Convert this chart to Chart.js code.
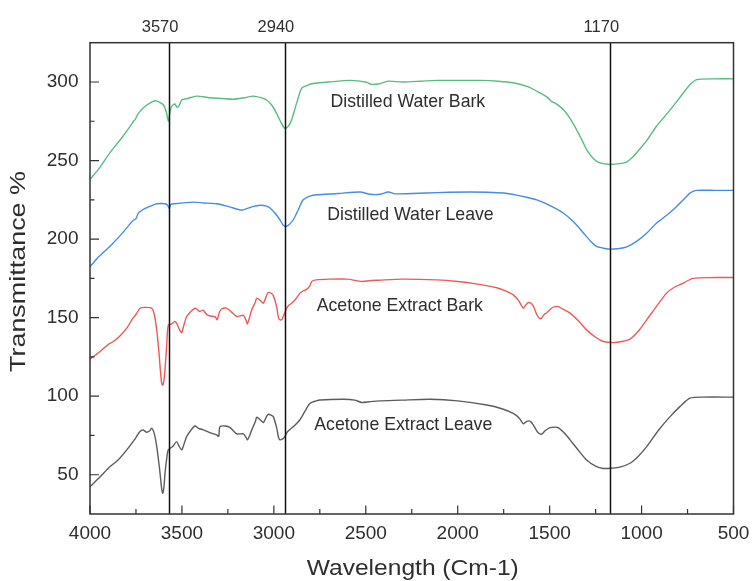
<!DOCTYPE html>
<html>
<head>
<meta charset="utf-8">
<script src="https://cdn.jsdelivr.net/npm/chart.js@4.4.1/dist/chart.umd.min.js"></script>
<style>
  html, body { margin: 0; padding: 0; background: #ffffff; }
  #wrap { width: 754px; height: 581px; position: relative; }
</style>
</head>
<body>
<div id="wrap"><canvas id="c" width="754" height="581"></canvas></div>
<script>
// ---------- data (wavenumber cm-1, transmittance %) ----------
const waterBarkWn = [4000,3950,3891,3830,3780,3764,3755,3737,3700,3660,3640,3620,3601,3585,3574,3565,3556,3538,3528,3515,3501,3470,3420,3350,3280,3220,3160,3112,3070,3039,3010,2985,2960,2940,2920,2903,2875,2849,2815,2785,2700,2586,2500,2470,2420,2380,2300,2200,2115,2000,1879,1780,1698,1620,1552,1510,1489,1470,1426,1390,1353,1320,1299,1260,1226,1172,1120,1081,1050,1027,970,918,860,809,760,737,700,600,500];
const waterBarkT  = [238,245,255,264,272,275,276,280,284.5,287.5,288,287,285.5,281,275,281,284.5,286,284,285,288.5,289.5,291,290,289.5,289,290,291,290,288.5,285,280,274,270.5,272,276,287,296,298,299,300,301,300,298.5,299,300.5,300,300.5,301,301,301,300.5,299.5,297,293,290,287.5,286.5,282.5,277,269.5,262,257,251,248.5,247.5,248,249,252,255,263,272,280,287.5,295,298.3,301.5,302,302];

const waterLeaveWn = [4000,3950,3891,3830,3780,3764,3750,3737,3700,3660,3637,3592,3578,3569,3560,3540,3438,3380,3311,3240,3175,3120,3075,3040,3021,2990,2967,2950,2934,2915,2894,2870,2840,2800,2767,2650,2531,2477,2420,2378,2340,2169,2050,1933,1840,1752,1680,1620,1570,1500,1426,1370,1317,1280,1244,1200,1172,1120,1081,1027,970,918,860,809,760,737,700,600,500];
const waterLeaveT  = [182.5,189,195.5,203,210,212,213,216.5,219.5,221.5,222.5,222.5,221.5,219.5,222,222.5,223.5,223,222.5,220.5,218.5,220.5,221.5,221,219.8,216,212.3,209,208,209.5,212.3,218,225,227.5,228.2,229,230,228.5,228.5,230,228.8,229.3,229.8,230,229.8,229.3,228,226.5,225,221.5,216.6,211,204,199,195.3,194,193.6,194,195,198.5,204,210.2,215.5,220.8,226.5,229.3,231,231,231];

const acetoneBarkWn = [4000,3950,3900,3873,3840,3800,3770,3750,3728,3700,3664,3650,3637,3625,3619,3610,3604,3598,3592,3583,3574,3555,3540,3529,3512,3501,3490,3474,3450,3429,3415,3402,3385,3365,3347,3320,3308,3298,3285,3257,3230,3202,3166,3150,3144,3135,3120,3100,3093,3070,3057,3040,3030,3015,3003,2985,2975,2967,2955,2949,2925,2900,2880,2858,2840,2822,2805,2794,2770,2700,2600,2520,2480,2430,2300,2115,2000,1900,1788,1740,1698,1670,1650,1643,1630,1616,1600,1589,1570,1555,1544,1530,1517,1490,1470,1453,1430,1389,1340,1299,1250,1208,1154,1100,1063,1020,972,920,864,820,773,720,600,500];
const acetoneBarkT  = [123.6,128,133,134.8,138,143.3,149,152,156,156.5,156,152,142,128,119,108,107,110,117,132,145.4,146,147.5,146.5,142,140.5,145,150.7,154,156,155,153.9,154.8,152,151,150.7,148.6,153,155.5,156,153.5,150.7,151.5,148,146,149,155,160,162.4,160.5,159.2,164,166,165.5,164,157,150,148.6,149,150.7,157,159.5,162,165.6,167,168,170,173,174,174.5,174.5,173,173.5,173.8,174.5,174,173,171.5,169,167,164.5,161,157,156,158,159.6,159,157.5,152,149.5,149.7,152,153,156,157,157,155.5,152.9,147.5,142.2,137.5,134.8,134.1,135,136.3,141,148.6,157,165.6,169.5,172,175,175.5,175.5];

const acetoneLeaveWn = [4000,3950,3891,3850,3800,3760,3728,3710,3692,3675,3664,3650,3637,3625,3619,3610,3604,3598,3592,3583,3574,3550,3529,3515,3501,3490,3474,3450,3429,3410,3384,3360,3347,3311,3300,3293,3265,3238,3202,3166,3150,3144,3135,3120,3100,3093,3070,3057,3040,3030,3015,3003,2985,2975,2967,2950,2940,2925,2890,2858,2830,2803,2770,2749,2622,2560,2522,2477,2420,2300,2151,2000,1842,1760,1698,1665,1643,1630,1616,1600,1589,1565,1544,1525,1498,1470,1453,1420,1389,1340,1299,1250,1208,1160,1118,1063,1020,972,910,845,790,737,664,500];
const acetoneLeaveT  = [42.4,48,55.2,59,65.8,72,77.5,78.5,77,78,79.6,76,67.9,57,50.9,41,38.2,42,50.9,60,65.8,68,71.1,68,65.8,69,74.3,78.5,81,79.5,78.6,77.5,76.8,75.3,74.5,80.6,81,80,76,76,73.5,72.2,74,78.6,84,86.6,84.5,83.2,87,88.5,88,87,80,74,72.2,73,74.3,77.5,81,85,90.6,95.5,97,97.6,98,97.5,96,96.5,97,97.5,98,97,94.4,92,89,86,82.4,83.5,84.3,83.5,81.7,77,75.8,78,80,80.3,80,76.5,72.2,65,59.4,55.5,54,54.2,54.8,57.3,61.5,67.9,78,87,93.5,98.7,99.4,99.4];

const seriesNames = ['Distilled Water Bark','Distilled Water Leave','Acetone Extract Bark','Acetone Extract Leave'];
const xTicks = [4000,3500,3000,2500,2000,1500,1000,500];
const yTicks = [50,100,150,200,250,300];
const markerLines = [3570,2940,1170];
// label anchors in data units (wavenumber, transmittance)
const labelWn = [2271,2257,2315,2296];
const labelT  = [284.3,212.1,154.2,78.5];

// ---------- chart ----------
const colors = ['rgb(88,188,128)','rgb(66,140,236)','rgb(240,88,88)','rgb(92,92,92)'];
const toPts = (xs, ys) => xs.map((x, i) => ({x: x, y: ys[i]}));
const seriesData = [
  toPts(waterBarkWn, waterBarkT),
  toPts(waterLeaveWn, waterLeaveT),
  toPts(acetoneBarkWn, acetoneBarkT),
  toPts(acetoneLeaveWn, acetoneLeaveT)
];
const TEXT = '#2e2e2e';
const FONT = '"Liberation Sans", Arial, sans-serif';

function stretchedText(ctx, text, cx, cy, angle, targetWidth) {
  const w = ctx.measureText(text).width;
  ctx.save();
  ctx.translate(cx, cy);
  ctx.rotate(angle);
  ctx.scale(targetWidth / w, 1);
  ctx.fillText(text, 0, 0);
  ctx.restore();
}

const decor = {
  id: 'decor',
  afterDatasetsDraw(chart) {
    const {ctx, chartArea: a, scales: {x, y}} = chart;
    ctx.save();
    // marker lines
    ctx.strokeStyle = '#111';
    ctx.lineWidth = 1.5;
    markerLines.forEach(v => {
      const px = Math.round(x.getPixelForValue(v)) + 0.5;
      ctx.beginPath(); ctx.moveTo(px, a.top); ctx.lineTo(px, a.bottom); ctx.stroke();
    });
    // frame
    ctx.strokeStyle = '#333';
    ctx.lineWidth = 1.5;
    ctx.strokeRect(a.left, a.top, a.right - a.left, a.bottom - a.top);
    // inward ticks
    ctx.lineWidth = 1.2;
    ctx.beginPath();
    for (let v = 500; v <= 4000; v += 250) {
      const px = x.getPixelForValue(v);
      const len = (v % 500 === 0) ? 8.5 : 5;
      ctx.moveTo(px, a.bottom); ctx.lineTo(px, a.bottom - len);
    }
    for (let v = 50; v <= 300; v += 25) {
      const py = y.getPixelForValue(v);
      const len = (v % 50 === 0) ? 9 : 4.5;
      ctx.moveTo(a.left, py); ctx.lineTo(a.left + len, py);
    }
    ctx.stroke();
    // marker labels on top
    ctx.fillStyle = TEXT;
    ctx.font = '16.5px ' + FONT;
    ctx.textAlign = 'center';
    ctx.textBaseline = 'alphabetic';
    markerLines.forEach(v => {
      ctx.fillText(String(v), x.getPixelForValue(v) - 9, a.top - 10.5);
    });
    // series labels
    ctx.font = '17.7px ' + FONT;
    seriesNames.forEach((n, i) => {
      ctx.fillText(n, x.getPixelForValue(labelWn[i]), y.getPixelForValue(labelT[i]));
    });
    // axis titles
    ctx.font = '21.5px ' + FONT;
    stretchedText(ctx, 'Wavelength (Cm-1)', (a.left + a.right) / 2 + 1, 575, 0, 212);
    stretchedText(ctx, 'Transmittance %', 25, 271.5, -Math.PI / 2, 201);
    ctx.restore();
  }
};

new Chart(document.getElementById('c'), {
  type: 'line',
  data: {
    datasets: seriesData.map((d, i) => ({
      label: seriesNames[i],
      data: d,
      borderColor: colors[i],
      borderWidth: 1.4,
      pointRadius: 0,
      fill: false,
      tension: 0.25
    }))
  },
  options: {
    responsive: false,
    animation: false,
    devicePixelRatio: 1,
    layout: { padding: { left: 0, right: 20.5, top: 42.7, bottom: 0 } },
    plugins: { legend: { display: false }, tooltip: { enabled: false } },
    scales: {
      x: {
        type: 'linear',
        reverse: true,
        min: 500, max: 4000,
        afterBuildTicks: s => { s.ticks = xTicks.map(v => ({value: v})); },
        afterFit: s => { s.height = 67; s.paddingLeft = 0; s.paddingRight = 0; },
        grid: { display: false, drawTicks: false },
        border: { display: false },
        ticks: { color: TEXT, font: { family: FONT, size: 19 }, padding: 8, maxRotation: 0, autoSkip: false,
                 callback: v => String(v) }
      },
      y: {
        type: 'linear',
        min: 25, max: 325,
        afterBuildTicks: s => { s.ticks = yTicks.map(v => ({value: v})); },
        afterFit: s => { s.width = 90; s.paddingTop = 0; s.paddingBottom = 0; },
        grid: { display: false, drawTicks: false },
        border: { display: false },
        ticks: { color: TEXT, font: { family: FONT, size: 19 }, padding: 11.5 }
      }
    }
  },
  plugins: [decor]
});
</script>
</body>
</html>
